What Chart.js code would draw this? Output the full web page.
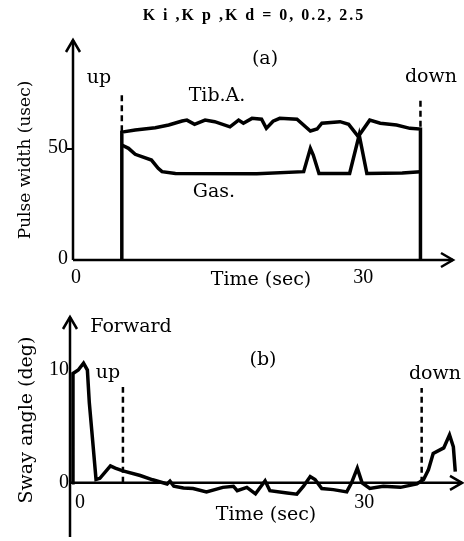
<!DOCTYPE html>
<html>
<head>
<meta charset="utf-8">
<script src="https://cdn.jsdelivr.net/npm/chart.js@4.4.1/dist/chart.umd.min.js"></script>
<style>
  body { margin: 0; background: #fff; }
  #wrap { position: relative; width: 464px; height: 541px; }
  canvas { position: absolute; left: 0; }
</style>
</head>
<body>
<div id="wrap">
  <canvas id="pulse" width="464" height="290" style="top:0"></canvas>
  <canvas id="sway" width="464" height="251" style="top:290px"></canvas>
</div>
<script>
// (a) pulse width, usec
const tibTime  = [5.1, 5.1, 6.5, 8.6, 10.0, 11.4, 11.9, 12.7, 13.8, 14.8, 16.4, 17.3, 17.8, 18.7, 19.7, 20.2, 20.9, 21.6, 23.4, 24.8, 25.5, 26.0, 27.9, 28.8, 29.8, 31.0, 32.1, 33.8, 35.2, 36.3, 36.3]
const tibWidth = [0, 57.6, 58.6, 59.6, 60.8, 62.6, 63, 61.1, 63, 62.3, 60, 63, 61.6, 63.8, 63.4, 59.3, 62.5, 63.8, 63.4, 58.1, 59, 61.6, 62.3, 61.1, 55.6, 63, 61.6, 60.8, 59.3, 59, 0]
const gasTime  = [5.1, 5.8, 6.5, 8.2, 8.9, 9.3, 10.7, 19.2, 24.1, 24.8, 25.1, 25.7, 28.9, 29.9, 30.7, 34.4, 36.3]
const gasWidth = [51.8, 50.3, 47.6, 45, 41.3, 39.8, 39, 38.8, 39.8, 50.3, 47.3, 39, 39, 56.3, 39, 39.2, 39.8]
const markTimeA = [5.1, 36.3]
const markSpanA = [[58, 75], [60, 73]]
const pulseTicksX = [0, 30]
const pulseTicksY = [0, 50]

// (b) sway angle, deg
const swayTime  = [0, 0.1, 0.65, 1.2, 1.6, 1.8, 2.05, 2.5, 2.9, 4.0, 4.5, 5.3, 7.1, 8.4, 9.9, 10.2, 10.6, 11.6, 12.6, 14.0, 15.7, 16.8, 17.2, 18.2, 19.1, 20.1, 20.6, 22.4, 23.4, 24.1, 24.8, 25.3, 26.0, 27.2, 28.6, 29.1, 29.7, 30.2, 31.0, 32.4, 34.2, 35.9, 36.6, 37.1, 37.6, 38.7, 39.3, 39.7, 39.9]
const swayAngle = [0, 9.7, 10, 10.6, 10, 7.1, 4.7, 0.3, 0.4, 1.5, 1.3, 1.06, 0.65, 0.27, -0.1, 0.15, -0.3, -0.45, -0.5, -0.8, -0.4, -0.3, -0.7, -0.4, -0.97, 0.18, -0.7, -0.9, -1.0, -0.3, 0.56, 0.3, -0.5, -0.6, -0.8, 0, 1.3, 0, -0.5, -0.3, -0.4, -0.1, 0.3, 1.15, 2.6, 3.1, 4.25, 3.2, 1.0]
const markTimeB = [5.3, 36.4]
const markSpanB = [[0, 8.5], [0, 8.4]]
const swayTicksX = [0, 30]
const swayTicksY = [0, 10]

const WORD = '19px "DejaVu Serif"'
const NUM = '20px "Liberation Serif"'

const zip = (xs, ys) => xs.map((x, i) => ({ x, y: ys[i] }))

function solid(data) {
  return { data, borderColor: '#000', borderWidth: 3.5, pointRadius: 0, tension: 0, fill: false, clip: false }
}

function dashed(t, span) {
  return { data: [{ x: t, y: span[0] }, { x: t, y: span[1] }], borderColor: '#000', borderWidth: 2.5, borderDash: [6, 4], pointRadius: 0, clip: false }
}

function text(ctx, s, x, y, font, align) {
  ctx.font = font
  ctx.textAlign = align || 'center'
  ctx.textBaseline = 'middle'
  ctx.fillText(s, x, y)
}

function arrowUp(ctx, x, y) {
  ctx.beginPath()
  ctx.moveTo(x - 7, y + 12); ctx.lineTo(x, y); ctx.lineTo(x + 7, y + 12)
  ctx.stroke()
}

function arrowRight(ctx, x, y) {
  ctx.beginPath()
  ctx.moveTo(x - 12, y - 7); ctx.lineTo(x, y); ctx.lineTo(x - 12, y + 7)
  ctx.stroke()
}

// axes with arrow heads, drawn under the data
function axesPlugin(zeroY) {
  return {
    id: 'axes',
    beforeDatasetsDraw(chart) {
      const { ctx, chartArea: a, scales } = chart
      const y0 = scales.y.getPixelForValue(zeroY)
      ctx.save()
      ctx.strokeStyle = '#000'
      ctx.lineWidth = 2.5
      ctx.beginPath()
      ctx.moveTo(a.left, a.bottom); ctx.lineTo(a.left, a.top)
      ctx.moveTo(a.left, y0); ctx.lineTo(a.right, y0)
      ctx.stroke()
      arrowUp(ctx, a.left, a.top)
      arrowRight(ctx, a.right, y0)
      ctx.restore()
    }
  }
}

function labelsPlugin(draw) {
  return { id: 'labels', afterDraw(chart) { const c = chart.ctx; c.save(); c.fillStyle = '#000'; draw(chart, c); c.restore() } }
}

function baseOptions(padding, xr, yr) {
  return {
    responsive: false,
    animation: false,
    layout: { padding },
    plugins: { legend: { display: false }, tooltip: { enabled: false } },
    scales: {
      x: { type: 'linear', min: xr[0], max: xr[1], display: false },
      y: { type: 'linear', min: yr[0], max: yr[1], display: false }
    }
  }
}

new Chart(document.getElementById('pulse'), {
  type: 'line',
  data: {
    datasets: [
      solid(zip(tibTime, tibWidth)),
      solid(zip(gasTime, gasWidth)),
      ...markTimeA.map((t, i) => dashed(t, markSpanA[i]))
    ]
  },
  options: baseOptions({ left: 73, right: 11, top: 40, bottom: 30 }, [0, 39.7], [0, 99.1]),
  plugins: [axesPlugin(0), labelsPlugin((chart, c) => {
    const x = chart.scales.x, y = chart.scales.y
    c.letterSpacing = '2px'
    text(c, 'K i ,K p ,K d = 0, 0.2, 2.5', 254, 16, 'bold 16px "Liberation Serif"')
    c.letterSpacing = '0px'
    pulseTicksY.forEach(v => text(c, String(v), 68, y.getPixelForValue(v) - 1, NUM, 'right'))
    pulseTicksX.forEach(v => text(c, String(v), x.getPixelForValue(v) + 3, 278, NUM))
    c.lineWidth = 2
    c.beginPath(); c.moveTo(67, y.getPixelForValue(50)); c.lineTo(73, y.getPixelForValue(50)); c.stroke()
    text(c, '(a)', 265, 59, WORD)
    text(c, 'up', 99, 78, WORD)
    text(c, 'down', 431, 77, WORD)
    text(c, 'Tib.A.', 217, 96, WORD)
    text(c, 'Gas.', 214, 192, WORD)
    text(c, 'Time (sec)', 261, 280, WORD)
    c.translate(26, 160); c.rotate(-Math.PI / 2)
    text(c, 'Pulse width (usec)', 0, 0, '17px "DejaVu Serif"')
  })]
})

new Chart(document.getElementById('sway'), {
  type: 'line',
  data: {
    datasets: [
      solid(zip(swayTime, swayAngle)),
      ...markTimeB.map((t, i) => dashed(t, markSpanB[i]))
    ]
  },
  options: baseOptions({ left: 70, right: 2, top: 27, bottom: 4 }, [-0.21, 40.6], [-4.8, 14.7]),
  plugins: [axesPlugin(0), labelsPlugin((chart, c) => {
    const x = chart.scales.x, y = chart.scales.y
    const off = 290
    swayTicksY.forEach(v => text(c, String(v), 69, y.getPixelForValue(v), NUM, 'right'))
    swayTicksX.forEach(v => text(c, String(v), x.getPixelForValue(v) + (v === 0 ? 8 : 4), 503 - off, NUM))
    text(c, 'Forward', 131, 327 - off, WORD)
    text(c, '(b)', 263, 360 - off, WORD)
    text(c, 'up', 108, 373 - off, WORD)
    text(c, 'down', 435, 374 - off, WORD)
    text(c, 'Time (sec)', 266, 515 - off, WORD)
    c.translate(27, 420 - off); c.rotate(-Math.PI / 2)
    text(c, 'Sway angle (deg)', 0, 0, '19px "DejaVu Serif"')
  })]
})
</script>
</body>
</html>
